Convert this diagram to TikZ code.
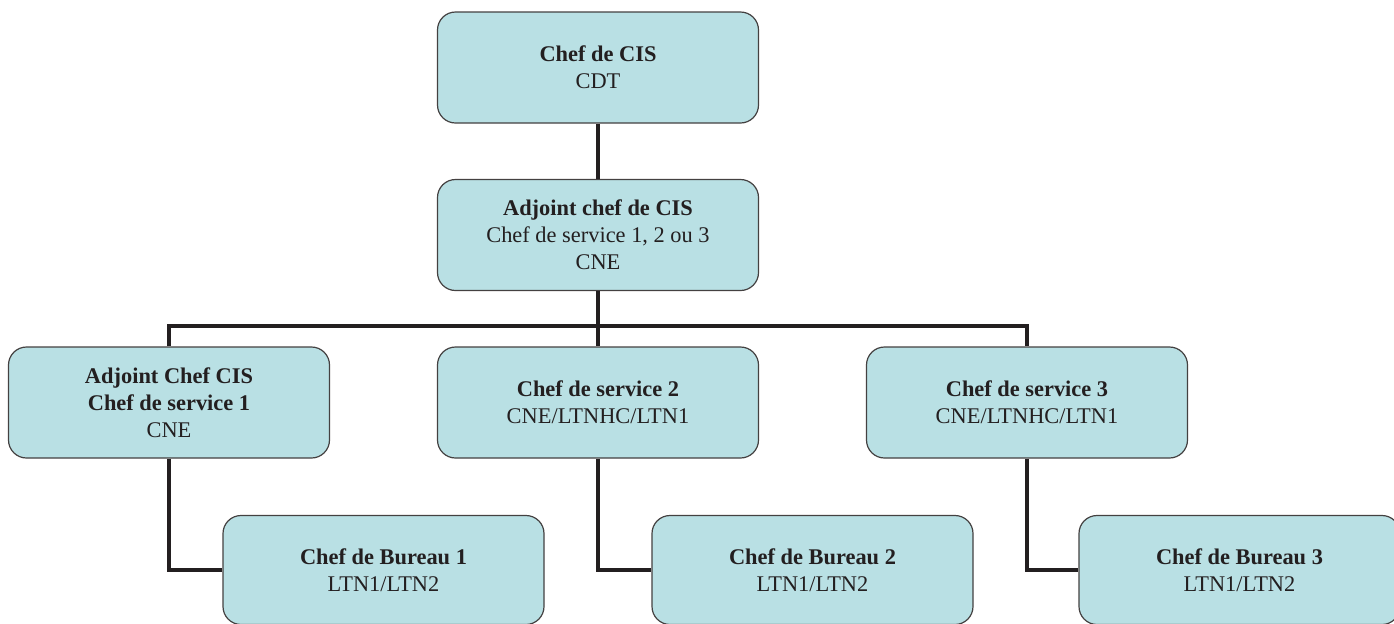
\documentclass[tikz,border=0pt]{standalone}
\usepackage{fontspec}
\setmainfont{Liberation Serif}
\usepackage{xcolor}
\definecolor{boxfill}{RGB}{185, 224, 228}
\definecolor{ink}{RGB}{35, 31, 32}

\begin{document}
\begin{tikzpicture}[x=0.5pt, y=-0.5pt,
  unit/.style={draw=ink!85, line width=0.6pt, fill=boxfill, rounded corners=9pt,
    minimum width=160.5pt, minimum height=55.5pt, align=center, inner sep=0pt,
    text=ink, font=\fontsize{11.2}{13.5}\selectfont},
  link/.style={draw=ink, line width=2pt}]
\useasboundingbox (0,0) rectangle (1394,623);

\node[unit] (cis) at (598,67.5) {\textbf{Chef de CIS}\\CDT};
\node[unit] (adj) at (598,235) {\textbf{Adjoint chef de CIS}\\Chef de service 1, 2 ou 3\\CNE};

\node[unit] (srv1) at (169,402.5) {\textbf{Adjoint Chef CIS}\\\textbf{Chef de service 1}\\CNE};
\node[unit] (srv2) at (598,402.5) {\textbf{Chef de service 2}\\CNE/LTNHC/LTN1};
\node[unit] (srv3) at (1027,402.5) {\textbf{Chef de service 3}\\CNE/LTNHC/LTN1};

\node[unit, minimum height=54.5pt] (bur1) at (383.5,570) {\textbf{Chef de Bureau 1}\\LTN1/LTN2};
\node[unit, minimum height=54.5pt] (bur2) at (812.5,570) {\textbf{Chef de Bureau 2}\\LTN1/LTN2};
\node[unit, minimum height=54.5pt] (bur3) at (1239.5,570) {\textbf{Chef de Bureau 3}\\LTN1/LTN2};

\coordinate (busr) at (1027,326);

\draw[link] (cis) -- (adj);
\draw[link] (adj) -- (srv2);
\draw[link] (srv1.north) |- (busr) -- (srv3.north);
\draw[link] (srv1.south) |- (bur1.west);
\draw[link] (srv2.south) |- (bur2.west);
\draw[link] (srv3.south) |- (bur3.west);
\end{tikzpicture}
\end{document}
